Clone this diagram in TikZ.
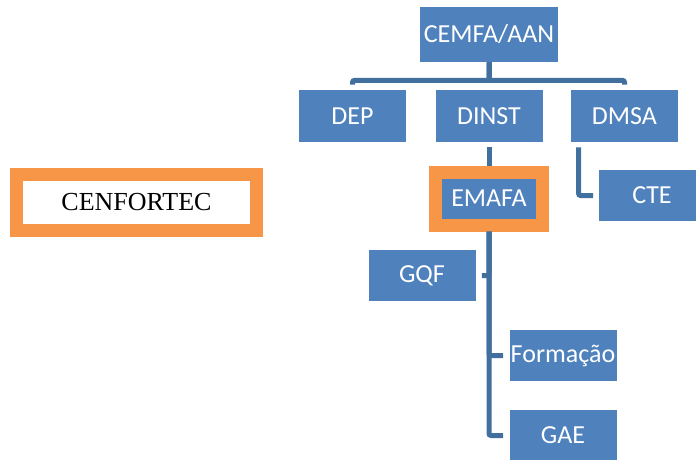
\documentclass[tikz,border=0pt]{standalone}
\usepackage{fontspec}
\setmainfont{Liberation Serif}
\setsansfont{Carlito}
\usetikzlibrary{shapes,arrows}
\definecolor{boxblue}{HTML}{4F81BD}
\definecolor{lineblue}{HTML}{41709F}
\definecolor{accorange}{HTML}{F79646}

\begin{document}
\begin{tikzpicture}[x=1pt,y=1pt,thick,node distance=80pt,
  unit node/.style={rectangle,fill=boxblue,text=white,inner sep=0pt,minimum width=107pt,minimum height=52pt,font=\sffamily\fontsize{26}{30}\selectfont},
  school node/.style={unit node,draw=accorange,line width=13pt,minimum width=107pt,minimum height=53pt},
  link/.style={draw=lineblue,line width=5pt,rounded corners=2pt}]

  \useasboundingbox (0,0) rectangle (696,-459);

  \node[unit node,minimum width=138pt,minimum height=55pt] (cemfa) at (489,-34.5) {CEMFA/AAN};
  \node[unit node] (dinst) [below of=cemfa, node distance=81.5pt] {DINST};
  \node[unit node] (dep) [left of=dinst, node distance=136.5pt] {DEP};
  \node[unit node] (dmsa) [right of=dinst, node distance=135.5pt] {DMSA};
  \node[unit node,minimum height=51pt] (cte) [below of=dmsa, node distance=79.5pt, xshift=27.5pt] {CTE};

  \node[school node] (emafa) [below of=dinst, node distance=82.5pt] {EMAFA};
  \node[unit node,minimum height=51pt] (gqf) [below of=emafa, node distance=77pt, xshift=-67pt] {GQF};
  \node[unit node,minimum height=51pt] (form) [below of=gqf, node distance=80pt, xshift=141pt] {Formação};
  \node[unit node,minimum height=51pt] (gae) [below of=form] {GAE};

  \node[draw=accorange,line width=13pt,fill=white,inner sep=0pt,minimum width=240pt,minimum height=56pt,
    font=\rmfamily\fontsize{26}{30}\selectfont] (cenfortec) at (136.5,-202) {CENFORTEC};

  % ligacoes
  \draw[link,shorten >=5pt] (cemfa.south) -- ++(0,-18) -| (dep.north);
  \draw[link,shorten >=5pt] (cemfa.south) -- ++(0,-18) -| (dmsa.north);
  \draw[link,shorten >=7pt] (cemfa.south) -- (dinst.north);
  \draw[link,shorten <=5pt] (dinst.south) -- (emafa.north);
  \draw[link,shorten <=5pt,shorten >=5pt] ([xshift=8pt]dmsa.south west) |- (cte.west);
  \draw[link,shorten >=6pt] (emafa.south) |- (gqf.east);
  \draw[link,shorten >=6pt] (emafa.south) |- (form.west);
  \draw[link,shorten >=6pt] (emafa.south) |- (gae.west);
\end{tikzpicture}
\end{document}
